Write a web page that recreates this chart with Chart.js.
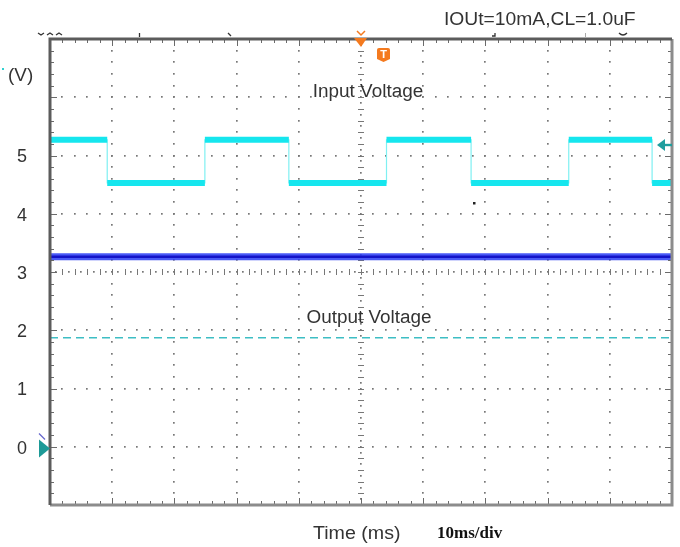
<!DOCTYPE html>
<html><head><meta charset="utf-8">
<script src="https://cdn.jsdelivr.net/npm/chart.js@4/dist/chart.umd.min.js"></script>
<style>html,body{margin:0;padding:0;background:#fff;}canvas{display:block;}</style>
</head><body>
<canvas id="c" width="680" height="547"></canvas>
<script>
// ---- data read from the scope capture ----
const timeRange = [0, 100];                 // ms (10 ms/div, 10 divisions)
const voltRange = [-1, 7];                  // V (1 V/div, 8 divisions)
const yTickLabels = [0, 1, 2, 3, 4, 5];
const inputEdges = [9.2, 24.9, 38.4, 54.1, 67.7, 83.4, 96.8]; // ms, input transitions
const inputStartsHigh = true;
const inputHigh = 5.27;                     // V
const inputLow = 4.53;                      // V
const outputLevel = 3.26;                   // V
const dashedLevel = 1.87;                   // V
const rightMarkerLevel = 5.18;              // V
const groundMarkerLevel = -0.03;            // V
const triggerTime = 50;                     // ms

// build step traces from the edge list
const inputThin = [];
const inputThick = [];
(function () {
  let hi = inputStartsHigh, t0 = timeRange[0];
  inputThin.push({ x: t0, y: hi ? inputHigh : inputLow });
  const ends = inputEdges.concat([timeRange[1]]);
  for (const e of ends) {
    const v = hi ? inputHigh : inputLow;
    inputThick.push({ x: t0, y: v }, { x: e, y: v }, { x: e, y: null });
    inputThin.push({ x: e, y: v });
    if (e < timeRange[1]) { hi = !hi; inputThin.push({ x: e, y: hi ? inputHigh : inputLow }); }
    t0 = e;
  }
})();
const outputTrace = [{ x: timeRange[0], y: outputLevel }, { x: timeRange[1], y: outputLevel }];
const dashedTrace = [{ x: timeRange[0], y: dashedLevel }, { x: timeRange[1], y: dashedLevel }];

const SANS = '"Liberation Sans", Arial, sans-serif';

const gridPlugin = {
  id: 'scopeGrid',
  beforeDatasetsDraw(chart) {
    const ctx = chart.ctx, xs = chart.scales.x, ys = chart.scales.y;
    const X = v => xs.getPixelForValue(v), Y = v => ys.getPixelForValue(v);
    const a = chart.chartArea;
    ctx.save();
    ctx.fillStyle = '#fff';
    ctx.fillRect(a.left, a.top, a.right - a.left, a.bottom - a.top);
    const dot = (x, y) => ctx.fillRect(Math.round(x) - 1, Math.round(y) - 1, 1.7, 1.7);
    ctx.fillStyle = '#777';
    const xMinor = 2, yMinor = 0.2;
    const nx = (timeRange[1] - timeRange[0]) / xMinor, ny = (voltRange[1] - voltRange[0]) / yMinor;
    for (let t = timeRange[0] + 10; t < timeRange[1]; t += 10) {
      if (t === triggerTime) continue;
      for (let k = 1; k < ny; k++) dot(X(t), Y(voltRange[0] + k * yMinor));
    }
    for (let v = voltRange[0] + 1; v < voltRange[1]; v += 1) {
      if (v === 3) continue;
      for (let k = 1; k < nx; k++) dot(X(timeRange[0] + k * xMinor), Y(v));
    }
    ctx.strokeStyle = '#777'; ctx.lineWidth = 1;
    const cx = X(triggerTime), cy = Y(3);
    for (let k = 1; k < ny; k++) {
      const y = Math.round(Y(voltRange[0] + k * yMinor)) + 0.5;
      ctx.beginPath(); ctx.moveTo(cx - 3, y); ctx.lineTo(cx + 3, y); ctx.stroke();
      dot(cx, Y(voltRange[0] + (k - 0.5) * yMinor));
    }
    for (let k = 1; k < nx; k++) {
      const x = Math.round(X(timeRange[0] + k * xMinor)) + 0.5;
      ctx.beginPath(); ctx.moveTo(x, cy - 3); ctx.lineTo(x, cy + 3); ctx.stroke();
      dot(X(timeRange[0] + (k - 0.5) * xMinor), cy);
    }
    ctx.restore();
  },
  afterDatasetsDraw(chart) {
    const ctx = chart.ctx, xs = chart.scales.x, ys = chart.scales.y;
    const X = v => xs.getPixelForValue(v), Y = v => ys.getPixelForValue(v);
    const a = chart.chartArea;
    ctx.save();
    ctx.strokeStyle = '#6a6a6a'; ctx.lineWidth = 1;
    const xMinor = 2, yMinor = 0.2;
    const nx = (timeRange[1] - timeRange[0]) / xMinor, ny = (voltRange[1] - voltRange[0]) / yMinor;
    for (let k = 1; k < nx; k++) {
      const x = Math.round(X(timeRange[0] + k * xMinor)) + 0.5;
      const len = (k % 5 === 0) ? 7 : 4;
      ctx.beginPath(); ctx.moveTo(x, a.top); ctx.lineTo(x, a.top + len);
      ctx.moveTo(x, a.bottom); ctx.lineTo(x, a.bottom - len); ctx.stroke();
    }
    for (let k = 1; k < ny; k++) {
      const y = Math.round(Y(voltRange[0] + k * yMinor)) + 0.5;
      const len = (k % 5 === 0) ? 7 : 4;
      ctx.beginPath(); ctx.moveTo(a.left, y); ctx.lineTo(a.left + len, y);
      ctx.moveTo(a.right, y); ctx.lineTo(a.right - len, y); ctx.stroke();
    }
    ctx.lineWidth = 3;
    ctx.strokeStyle = '#8c8c8c';
    ctx.beginPath(); ctx.moveTo(a.right, a.top); ctx.lineTo(a.right, a.bottom); ctx.lineTo(a.left, a.bottom); ctx.stroke();
    ctx.strokeStyle = '#5c5c5c';
    ctx.beginPath(); ctx.moveTo(a.left, a.bottom); ctx.lineTo(a.left, a.top); ctx.lineTo(a.right, a.top); ctx.stroke();
    ctx.restore();
  }
};

function txt(ctx, s, x, y, font, color, align, sx) {
  ctx.save();
  ctx.font = font; ctx.fillStyle = color; ctx.textBaseline = 'middle';
  ctx.textAlign = align || 'left';
  ctx.translate(x, y); ctx.scale(sx || 1, 1);
  ctx.fillText(s, 0, 0);
  ctx.restore();
}

const overlayPlugin = {
  id: 'scopeOverlay',
  afterDraw(chart) {
    const ctx = chart.ctx, xs = chart.scales.x, ys = chart.scales.y;
    const X = v => xs.getPixelForValue(v), Y = v => ys.getPixelForValue(v);
    const a = chart.chartArea;
    ctx.save();
    const tx = X(triggerTime);
    ctx.fillStyle = '#f47a1f';
    ctx.beginPath(); ctx.moveTo(tx - 7, a.top - 1); ctx.lineTo(tx + 6, a.top - 1); ctx.lineTo(tx, a.top + 8); ctx.closePath(); ctx.fill();
    ctx.strokeStyle = '#f47a1f'; ctx.lineWidth = 1.5;
    ctx.beginPath(); ctx.moveTo(tx - 4, a.top - 8); ctx.lineTo(tx, a.top - 4); ctx.lineTo(tx + 4, a.top - 8); ctx.stroke();
    const bx = tx + 16, by = a.top + 9;
    ctx.fillStyle = '#f47a1f';
    ctx.beginPath();
    ctx.moveTo(bx + 2, by); ctx.lineTo(bx + 11, by); ctx.quadraticCurveTo(bx + 13, by, bx + 13, by + 2);
    ctx.lineTo(bx + 13, by + 11); ctx.lineTo(bx + 6.5, by + 14); ctx.lineTo(bx, by + 11);
    ctx.lineTo(bx, by + 2); ctx.quadraticCurveTo(bx, by, bx + 2, by); ctx.closePath(); ctx.fill();
    txt(ctx, 'T', bx + 6.5, by + 6.5, 'bold 11px ' + SANS, '#fff', 'center');
    const ry = Y(rightMarkerLevel);
    ctx.fillStyle = '#1f9e9e';
    ctx.beginPath(); ctx.moveTo(a.right - 15, ry); ctx.lineTo(a.right - 7, ry - 6); ctx.lineTo(a.right - 7, ry + 6); ctx.closePath(); ctx.fill();
    ctx.fillRect(a.right - 8, ry - 1.2, 8, 2.4);
    const gy = Y(groundMarkerLevel);
    ctx.fillStyle = '#1d9a97';
    ctx.beginPath(); ctx.moveTo(a.left - 11, gy - 9); ctx.lineTo(a.left, gy); ctx.lineTo(a.left - 11, gy + 9); ctx.closePath(); ctx.fill();
    ctx.strokeStyle = '#6666cc'; ctx.lineWidth = 1.2;
    ctx.beginPath(); ctx.moveTo(a.left - 11, gy - 15); ctx.lineTo(a.left - 5, gy - 9); ctx.stroke();
    ctx.strokeStyle = '#333'; ctx.lineWidth = 1.3;
    ctx.beginPath();
    ctx.moveTo(38, 33); ctx.lineTo(41, 35); ctx.lineTo(44, 33);
    ctx.moveTo(47, 35); ctx.lineTo(50, 33); ctx.lineTo(53, 35);
    ctx.moveTo(56, 35); ctx.lineTo(59, 33); ctx.lineTo(62, 35);
    ctx.moveTo(139.5, 33); ctx.lineTo(139.5, 37);
    ctx.moveTo(228, 33); ctx.lineTo(231, 36);
    ctx.moveTo(495, 33); ctx.lineTo(495, 36); ctx.lineTo(492, 36);
    ctx.moveTo(619, 33); ctx.quadraticCurveTo(623, 37, 627, 33);
    ctx.stroke();
    ctx.strokeStyle = '#aaa'; ctx.lineWidth = 1;
    ctx.beginPath(); ctx.moveTo(585.5, 33); ctx.lineTo(585.5, 37); ctx.stroke();
    ctx.fillStyle = '#222'; ctx.fillRect(473, 202, 2.5, 2.5);
    ctx.fillStyle = '#2fd0d0'; ctx.fillRect(2, 68, 2, 2);
    txt(ctx, '(V)', 8, 76, '18px ' + SANS, '#333', 'left', 1.05);
    txt(ctx, 'Input Voltage', 368, 92, '18px ' + SANS, '#333', 'center', 1.05);
    txt(ctx, 'Output Voltage', 369, 318, '18px ' + SANS, '#333', 'center', 1.05);
    txt(ctx, 'IOUt=10mA,CL=1.0uF', 444, 20, '18px ' + SANS, '#333', 'left', 1.07);
    txt(ctx, 'Time (ms)', 313, 534, '18px ' + SANS, '#333', 'left', 1.09);
    txt(ctx, '10ms/div', 437, 534, 'bold 17px "Liberation Serif", "Times New Roman", serif', '#111', 'left', 1.0);
    ctx.restore();
  }
};

new Chart(document.getElementById('c'), {
  type: 'line',
  data: {
    datasets: [
      { label: 'Input Voltage', order: 1, data: inputThick, borderColor: '#16e6ee', borderWidth: 6, pointRadius: 0, spanGaps: false, borderCapStyle: 'butt' },
      { label: 'Input edges', order: 2, data: inputThin, borderColor: '#7ff0f2', borderWidth: 1.2, pointRadius: 0 },
      { label: 'Output core', order: 3, data: outputTrace, borderColor: '#1414c8', borderWidth: 2.5, pointRadius: 0 },
      { label: 'Output Voltage', order: 4, data: outputTrace, borderColor: 'rgba(40,60,245,0.85)', borderWidth: 7, pointRadius: 0 },
      { label: 'ref', order: 5, data: dashedTrace, borderColor: '#3dbec4', borderWidth: 1.6, borderDash: [8, 5], pointRadius: 0 }
    ]
  },
  options: {
    responsive: false,
    animation: false,
    layout: { padding: { top: 39, right: 8, bottom: 42, left: 0 } },
    plugins: { legend: { display: false }, tooltip: { enabled: false } },
    scales: {
      x: { type: 'linear', min: timeRange[0], max: timeRange[1], display: false },
      y: {
        type: 'linear', min: voltRange[0], max: voltRange[1],
        afterFit(s) { s.width = 50; },
        grid: { display: false, drawTicks: false },
        border: { display: false },
        ticks: {
          stepSize: 1, autoSkip: false, padding: 23, color: '#333', labelOffset: 2,
          font: { family: 'Liberation Sans', size: 18 },
          callback: v => yTickLabels.includes(v) ? String(v) : ''
        }
      }
    }
  },
  plugins: [gridPlugin, overlayPlugin]
});
</script>
</body></html>
